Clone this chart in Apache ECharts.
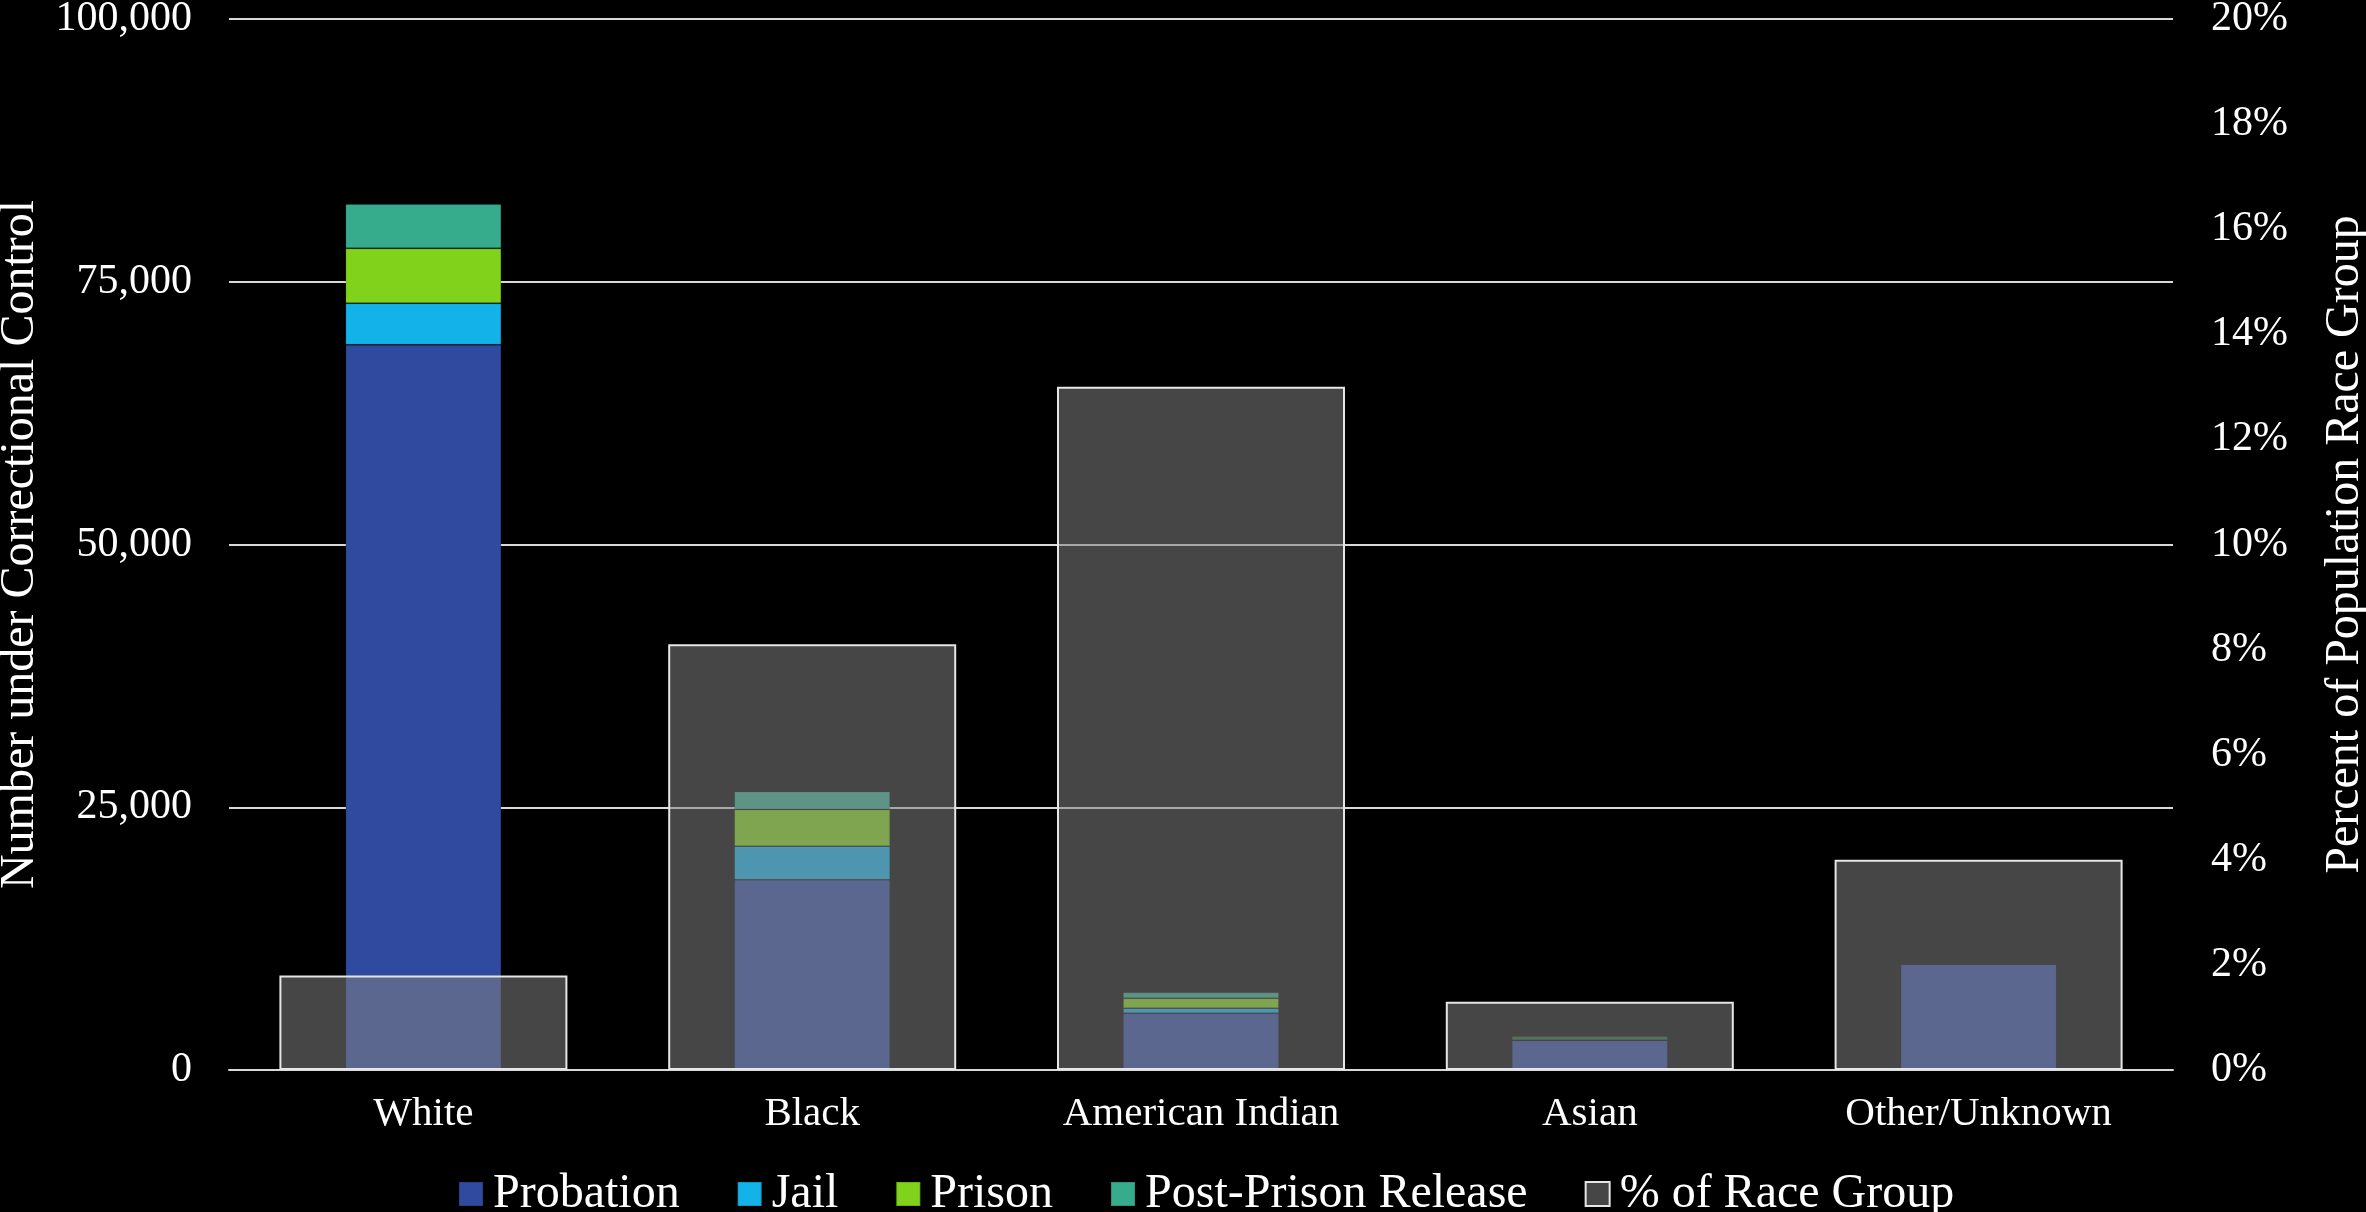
<!DOCTYPE html>
<html>
<head>
<meta charset="utf-8">
<script src="https://cdn.jsdelivr.net/npm/echarts@6/dist/echarts.min.js"></script>
<style>
  html, body { margin: 0; padding: 0; background: #000; }
  #report { width: 2366px; height: 1212px; }
</style>
</head>
<body>
<div id="report"></div>
<script>
var raceGroups = ['White', 'Black', 'American Indian', 'Asian', 'Other/Unknown'];
var probation = [69000, 18100, 5400, 2800, 10050];
var jail = [3950, 3200, 480, 150, 40];
var prison = [5230, 3490, 950, 200, 30];
var postRelease = [4220, 1710, 570, 100, 80];
var pctOfRaceGroup = [1.8, 8.1, 13.0, 1.3, 4.0];

var serif = 'Liberation Serif';
var myChart = echarts.init(document.getElementById('report'));

function stackBar(name, color, data) {
    return {
        name: name,
        type: 'bar',
        stack: 'total',
        xAxisIndex: 0,
        yAxisIndex: 0,
        barWidth: 156,
        data: data,
        itemStyle: { color: color, borderColor: 'rgba(0,0,0,0.15)', borderWidth: 1 }
    };
}

var option = {
    backgroundColor: '#000',
    textStyle: { fontFamily: serif, color: '#fff' },
    grid: { left: 229, right: 193, top: 19, bottom: 142, containLabel: false, outerBoundsMode: 'none' },
    legend: {
        top: 1165,
        left: 453,
        icon: 'rect',
        itemWidth: 24,
        itemHeight: 24,
        itemGap: 57,
        textStyle: { fontFamily: serif, fontSize: 48, color: '#fff', padding: [0, 0, 0, 5] },
        data: ['Probation', 'Jail', 'Prison', 'Post-Prison Release', '% of Race Group']
    },
    xAxis: [{
        type: 'category',
        data: raceGroups,
        axisLine: { show: true, lineStyle: { color: '#d9d9d9', width: 2 } },
        axisTick: { show: false },
        axisLabel: { fontFamily: serif, fontSize: 41, color: '#fff', margin: 24 }
    }, {
        type: 'category',
        data: raceGroups,
        show: false
    }],
    yAxis: [{
        type: 'value',
        min: 0,
        max: 100000,
        interval: 25000,
        name: 'Number under Correctional Control',
        nameLocation: 'middle',
        nameGap: 177,
        nameTextStyle: { fontFamily: serif, fontSize: 48, color: '#fff' },
        axisLine: { show: false },
        axisTick: { show: false },
        axisLabel: {
            fontFamily: serif, fontSize: 42, color: '#fff', margin: 37,
            formatter: function (v) { return v.toLocaleString('en-US'); }
        },
        splitLine: { show: true, lineStyle: { color: '#d9d9d9', width: 2 } }
    }, {
        type: 'value',
        min: 0,
        max: 20,
        interval: 2,
        position: 'right',
        name: 'Percent of Population Race Group',
        nameLocation: 'middle',
        nameGap: 148,
        nameRotate: 90,
        nameTextStyle: { fontFamily: serif, fontSize: 48, color: '#fff' },
        axisLine: { show: false },
        axisTick: { show: false },
        axisLabel: { fontFamily: serif, fontSize: 42, color: '#fff', margin: 38, formatter: '{value}%' },
        splitLine: { show: false }
    }],
    series: [
        stackBar('Probation', '#2f4a9f', probation),
        stackBar('Jail', '#13b2e8', jail),
        stackBar('Prison', '#80d31a', prison),
        stackBar('Post-Prison Release', '#36ac8c', postRelease),
        {
            name: '% of Race Group',
            type: 'bar',
            xAxisIndex: 1,
            yAxisIndex: 1,
            barWidth: 288,
            z: 5,
            data: pctOfRaceGroup,
            itemStyle: { color: 'rgba(127,127,127,0.55)', borderColor: '#e6e6e6', borderWidth: 2 }
        }
    ]
};
myChart.setOption(option);
</script>
</body>
</html>
